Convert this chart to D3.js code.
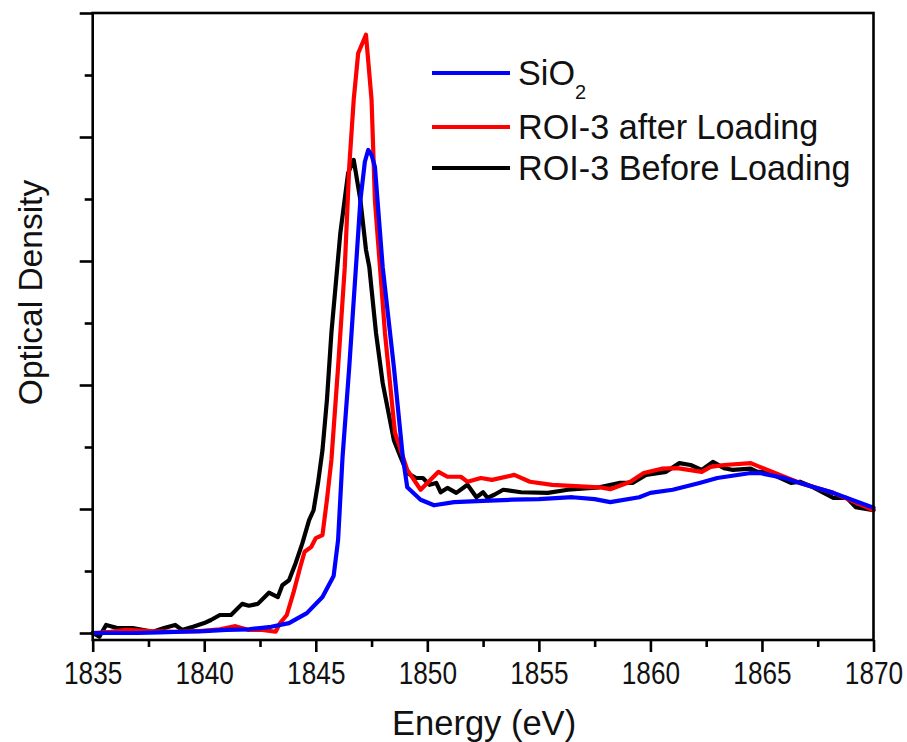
<!DOCTYPE html>
<html>
<head>
<meta charset="utf-8">
<script src="https://cdn.jsdelivr.net/npm/d3@7"></script>
<style>
  html, body { margin: 0; padding: 0; background: #fff; }
  svg { display: block; }
  text { font-family: "Liberation Sans", Arial, sans-serif; fill: #111; }
</style>
</head>
<body>
<svg id="chart" width="907" height="742"></svg>
<script>
// Si K-edge XANES spectra: [energy (eV), optical density]
const sio2 = [
  [1835.0, 0.000], [1836.0, 0.000], [1837.0, 0.000], [1838.0, 0.001], [1839.0, 0.002],
  [1840.0, 0.003], [1841.0, 0.005], [1842.0, 0.006], [1842.5, 0.008], [1843.0, 0.010],
  [1843.8, 0.016], [1844.6, 0.032], [1845.3, 0.058], [1845.8, 0.092], [1846.0, 0.150],
  [1846.2, 0.284], [1846.5, 0.429], [1846.8, 0.590], [1847.0, 0.698], [1847.2, 0.760],
  [1847.35, 0.779], [1847.5, 0.771], [1847.65, 0.752], [1848.0, 0.590], [1848.5, 0.429],
  [1848.9, 0.284], [1849.1, 0.235], [1849.7, 0.215], [1850.3, 0.206], [1851.2, 0.211],
  [1852.5, 0.213], [1853.8, 0.215], [1855.0, 0.216], [1856.5, 0.219], [1857.5, 0.216],
  [1858.2, 0.211], [1859.5, 0.219], [1860.0, 0.226], [1861.0, 0.231], [1862.2, 0.242],
  [1863.0, 0.250], [1864.5, 0.258], [1864.9, 0.258], [1866.0, 0.250], [1866.7, 0.242],
  [1868.2, 0.226], [1870.0, 0.202]
];

const roiAfter = [
  [1835.0, 0.000], [1835.8, 0.002], [1836.5, 0.005], [1837.6, 0.003], [1838.7, 0.002],
  [1839.8, 0.003], [1840.7, 0.006], [1841.4, 0.011], [1842.0, 0.005], [1842.6, 0.005],
  [1843.2, 0.002], [1843.4, 0.016], [1843.7, 0.029], [1844.0, 0.065], [1844.3, 0.106],
  [1844.5, 0.131], [1844.8, 0.139], [1845.0, 0.153], [1845.3, 0.158], [1845.5, 0.215],
  [1845.7, 0.279], [1846.0, 0.429], [1846.3, 0.590], [1846.5, 0.752], [1846.7, 0.860],
  [1846.9, 0.935], [1847.25, 0.965], [1847.5, 0.860], [1847.65, 0.698], [1848.1, 0.484],
  [1848.55, 0.323], [1849.1, 0.263], [1849.7, 0.231], [1850.5, 0.260], [1850.9, 0.252],
  [1851.5, 0.252], [1851.8, 0.244], [1852.4, 0.250], [1852.9, 0.247], [1853.9, 0.255],
  [1854.6, 0.244], [1855.6, 0.239], [1857.7, 0.235], [1858.2, 0.232], [1859.1, 0.244],
  [1859.7, 0.258], [1860.5, 0.265], [1861.2, 0.266], [1862.3, 0.260], [1862.7, 0.268],
  [1863.3, 0.271], [1864.5, 0.274], [1864.9, 0.268], [1866.0, 0.252], [1866.7, 0.242],
  [1868.2, 0.226], [1870.0, 0.198]
];

const roiBefore = [
  [1835.0, 0.000], [1835.3, -0.006], [1835.6, 0.013], [1836.1, 0.008], [1836.8, 0.008],
  [1837.7, 0.002], [1838.2, 0.008], [1838.7, 0.013], [1839.0, 0.005], [1839.5, 0.010],
  [1840.0, 0.016], [1840.3, 0.021], [1840.7, 0.029], [1841.2, 0.029], [1841.7, 0.047],
  [1842.0, 0.044], [1842.4, 0.047], [1842.9, 0.065], [1843.3, 0.058], [1843.5, 0.077],
  [1843.8, 0.085], [1844.1, 0.113], [1844.4, 0.145], [1844.7, 0.182], [1844.9, 0.198],
  [1845.1, 0.242], [1845.3, 0.295], [1845.5, 0.376], [1845.7, 0.484], [1846.1, 0.645],
  [1846.45, 0.742], [1846.7, 0.763], [1847.0, 0.698], [1847.25, 0.618], [1847.4, 0.590],
  [1847.7, 0.484], [1848.0, 0.403], [1848.5, 0.311], [1848.8, 0.284], [1849.1, 0.258],
  [1849.5, 0.250], [1849.8, 0.250], [1850.1, 0.239], [1850.4, 0.242], [1850.6, 0.227],
  [1850.9, 0.234], [1851.3, 0.226], [1851.8, 0.239], [1852.2, 0.219], [1852.5, 0.227],
  [1852.7, 0.218], [1853.0, 0.223], [1853.4, 0.231], [1854.2, 0.227], [1855.4, 0.226],
  [1856.3, 0.231], [1857.7, 0.235], [1858.6, 0.242], [1859.2, 0.242], [1859.8, 0.255],
  [1860.7, 0.260], [1861.3, 0.274], [1861.8, 0.271], [1862.3, 0.263], [1862.8, 0.276],
  [1863.3, 0.266], [1863.7, 0.263], [1864.5, 0.265], [1864.8, 0.260], [1865.2, 0.260],
  [1866.3, 0.242], [1866.7, 0.244], [1867.3, 0.235], [1868.2, 0.218], [1868.8, 0.218],
  [1869.2, 0.203], [1870.0, 0.198]
];

const xMajorTicks = [1835, 1840, 1845, 1850, 1855, 1860, 1865, 1870];
const xMinorTicks = [1837.5, 1842.5, 1847.5, 1852.5, 1857.5, 1862.5, 1867.5];
const yMajorTicks = [0, 0.2, 0.4, 0.6, 0.8, 1.0];
const yMinorTicks = [0.1, 0.3, 0.5, 0.7, 0.9];

// drawn in this order: black first, blue on top
const series = [
  { name: "ROI-3 Before Loading", data: roiBefore, color: "#000000" },
  { name: "ROI-3 after Loading", data: roiAfter, color: "#ff0000" },
  { name: "SiO2", data: sio2, color: "#0000ff" }
];
const legendOrder = [series[2], series[1], series[0]];

const svg = d3.select("#chart");
const plotLeft = 92.7, plotRight = 873.5, plotTop = 13, plotBottom = 640;

const x = d3.scaleLinear().domain([1835, 1870]).range([plotLeft, plotRight]);
const y = d3.scaleLinear().domain([-0.01129, 1.0]).range([plotBottom, plotTop]);

// data lines
const line = d3.line().x(d => x(d[0])).y(d => y(d[1]));
svg.append("g").selectAll("path")
  .data(series)
  .join("path")
  .attr("d", d => line(d.data))
  .attr("fill", "none")
  .attr("stroke", d => d.color)
  .attr("stroke-width", 4.2)
  .attr("stroke-linejoin", "round")
  .attr("stroke-linecap", "round");

// frame
svg.append("rect")
  .attr("x", plotLeft).attr("y", plotTop)
  .attr("width", plotRight - plotLeft).attr("height", plotBottom - plotTop)
  .attr("fill", "none").attr("stroke", "#000").attr("stroke-width", 2.6);

// bottom axis
const xAxis = svg.append("g").attr("transform", `translate(0,${plotBottom})`);
xAxis.call(d3.axisBottom(x).tickValues(xMajorTicks).tickSize(12).tickPadding(10).tickFormat(d3.format("d")));
xAxis.append("g").call(d3.axisBottom(x).tickValues(xMinorTicks).tickSize(7).tickFormat(""));
xAxis.selectAll(".domain").remove();
xAxis.selectAll("line").attr("stroke", "#000").attr("stroke-width", 2.6);
xAxis.selectAll("text")
  .attr("font-size", 30.5)
  .attr("fill", "#111")
  .attr("font-family", "'Liberation Sans', Arial, sans-serif")
  .style("transform-box", "fill-box")
  .style("transform-origin", "center")
  .style("transform", "scaleX(0.86)");

// left axis (no labels)
const yAxis = svg.append("g").attr("transform", `translate(${plotLeft},0)`);
yAxis.call(d3.axisLeft(y).tickValues(yMajorTicks).tickSize(13).tickFormat(""));
yAxis.append("g").call(d3.axisLeft(y).tickValues(yMinorTicks).tickSize(8).tickFormat(""));
yAxis.selectAll(".domain").remove();
yAxis.selectAll("line").attr("stroke", "#000").attr("stroke-width", 2.6);

// axis titles
svg.append("text")
  .attr("x", (plotLeft + plotRight) / 2 + 1).attr("y", 735)
  .attr("text-anchor", "middle")
  .attr("font-size", 34.5)
  .text("Energy (eV)");

svg.append("text")
  .attr("transform", `translate(42,${(plotTop + plotBottom) / 2 - 34}) rotate(-90)`)
  .attr("text-anchor", "middle")
  .attr("font-size", 33.5)
  .text("Optical Density");

// legend
const legendY = [73, 127, 168];
const lg = svg.append("g");
legendOrder.forEach((s, i) => {
  lg.append("line")
    .attr("x1", 432).attr("x2", 510)
    .attr("y1", legendY[i]).attr("y2", legendY[i])
    .attr("stroke", s.color).attr("stroke-width", 4);
  const t = lg.append("text")
    .attr("x", 518).attr("y", legendY[i] + 12)
    .attr("font-size", 34.2);
  if (s.name === "SiO2") {
    t.append("tspan").text("SiO");
    t.append("tspan").attr("font-size", 20).attr("dy", 14).text("2");
  } else {
    t.text(s.name);
  }
});
</script>
</body>
</html>
